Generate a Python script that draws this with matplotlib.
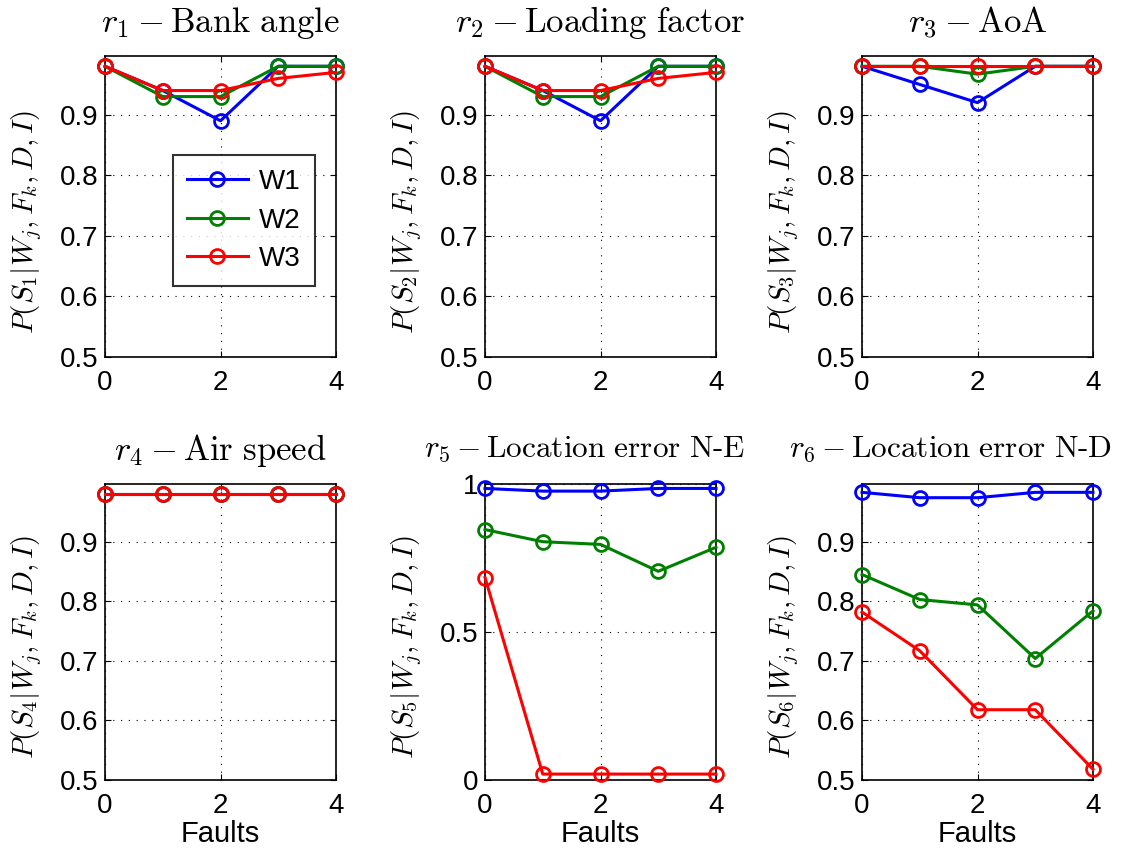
import matplotlib
matplotlib.use("Agg")
import matplotlib.pyplot as plt

plt.rcParams['font.family'] = ['Liberation Sans', 'DejaVu Sans']
plt.rcParams['mathtext.fontset'] = 'cm'

faults = [0, 1, 2, 3, 4]
series_names = ['W1', 'W2', 'W3']
colors = ['#0000ff', '#008000', '#ff0000']

titles = [r'$r_1 - \mathrm{Bank\ angle}$',
          r'$r_2 - \mathrm{Loading\ factor}$',
          r'$r_3 - \mathrm{AoA}$',
          r'$r_4 - \mathrm{Air\ speed}$',
          r'$r_5 - \mathrm{Location\ error\ N\text{-}E}$',
          r'$r_6 - \mathrm{Location\ error\ N\text{-}D}$']
ylabels = [r'$P(S_%d|W_j,F_k,D,I)$' % i for i in range(1, 7)]

r1_w1 = [0.98, 0.94, 0.89, 0.98, 0.98]
r1_w2 = [0.98, 0.93, 0.93, 0.98, 0.98]
r1_w3 = [0.98, 0.94, 0.94, 0.96, 0.97]

r2_w1 = [0.98, 0.94, 0.89, 0.98, 0.98]
r2_w2 = [0.98, 0.93, 0.93, 0.98, 0.98]
r2_w3 = [0.98, 0.94, 0.94, 0.96, 0.97]

r3_w1 = [0.98, 0.95, 0.92, 0.98, 0.98]
r3_w2 = [0.98, 0.98, 0.967, 0.98, 0.98]
r3_w3 = [0.98, 0.98, 0.98, 0.98, 0.98]

r4_w1 = [0.98, 0.98, 0.98, 0.98, 0.98]
r4_w2 = [0.98, 0.98, 0.98, 0.98, 0.98]
r4_w3 = [0.98, 0.98, 0.98, 0.98, 0.98]

r5_w1 = [0.985, 0.976, 0.976, 0.985, 0.985]
r5_w2 = [0.846, 0.805, 0.796, 0.705, 0.786]
r5_w3 = [0.684, 0.02, 0.02, 0.02, 0.02]

r6_w1 = [0.983, 0.974, 0.974, 0.983, 0.983]
r6_w2 = [0.845, 0.803, 0.794, 0.704, 0.784]
r6_w3 = [0.782, 0.717, 0.618, 0.618, 0.518]

data = [(r1_w1, r1_w2, r1_w3), (r2_w1, r2_w2, r2_w3), (r3_w1, r3_w2, r3_w3),
        (r4_w1, r4_w2, r4_w3), (r5_w1, r5_w2, r5_w3), (r6_w1, r6_w2, r6_w3)]

yticks_std = [0.5, 0.6, 0.7, 0.8, 0.9]
yticklabels_std = ['0.5', '0.6', '0.7', '0.8', '0.9']
yticks_r5 = [0, 0.5, 1]
yticklabels_r5 = ['0', '0.5', '1']
xticks = [0, 2, 4]

W, H = 1121, 855
fig = plt.figure(figsize=(W / 100, H / 100), dpi=100)

lefts = [105, 485, 862]
width = 231
rows = [(56, 357), (484, 780)]

axes = []
for i in range(6):
    r, c = divmod(i, 3)
    top, bot = rows[r]
    ax = fig.add_axes([lefts[c] / W, (H - bot) / H, width / W, (bot - top) / H])
    axes.append(ax)

title_x = [0.5, 0.5, 0.5, 0.5, 0.43, 0.385]

for i, ax in enumerate(axes):
    for vals, col, name in zip(data[i], colors, series_names):
        ax.plot(faults, vals, color=col, lw=2.2, marker='o', ms=10,
                mfc='none', mec=col, mew=2.0, label=name, clip_on=False, zorder=3)
    ax.set_xlim(0, 4)
    ax.set_xticks(xticks)
    ax.set_xticklabels([str(x) for x in xticks])
    if i == 4:
        ax.set_ylim(0, 1)
        ax.set_yticks(yticks_r5)
        ax.set_yticklabels(yticklabels_r5)
    else:
        ax.set_ylim(0.5, 0.997)
        ax.set_yticks(yticks_std)
        ax.set_yticklabels(yticklabels_std)
    ax.grid(True, color='k', linestyle=(0, (1, 6)), linewidth=0.8)
    ax.tick_params(direction='in', top=True, right=True, length=4,
                   labelsize=20, width=0.8)
    ax.tick_params(axis='x', pad=9)
    ax.tick_params(axis='y', pad=5)
    for s in ax.spines.values():
        s.set_linewidth(1.2)
    if i < 4:
        ax.set_title(titles[i], fontsize=25, pad=17, x=title_x[i])
    else:
        ax.set_title(titles[i], fontsize=22.5, pad=20, x=title_x[i])
    ax.set_ylabel(ylabels[i], fontsize=21)
    ax.yaxis.set_label_coords(-0.262, 0.45)
    if i >= 3:
        ax.set_xlabel('Faults', fontsize=21, labelpad=1)

leg = axes[0].legend(loc='upper left', bbox_to_anchor=(0.294, 0.67), fontsize=20,
                     frameon=True, fancybox=False, handlelength=2.2,
                     borderpad=0.5, labelspacing=0.45, handletextpad=0.4,
                     borderaxespad=0)
leg.get_frame().set_edgecolor('k')
leg.get_frame().set_linewidth(1.5)

fig.savefig('out.png', dpi=100)
